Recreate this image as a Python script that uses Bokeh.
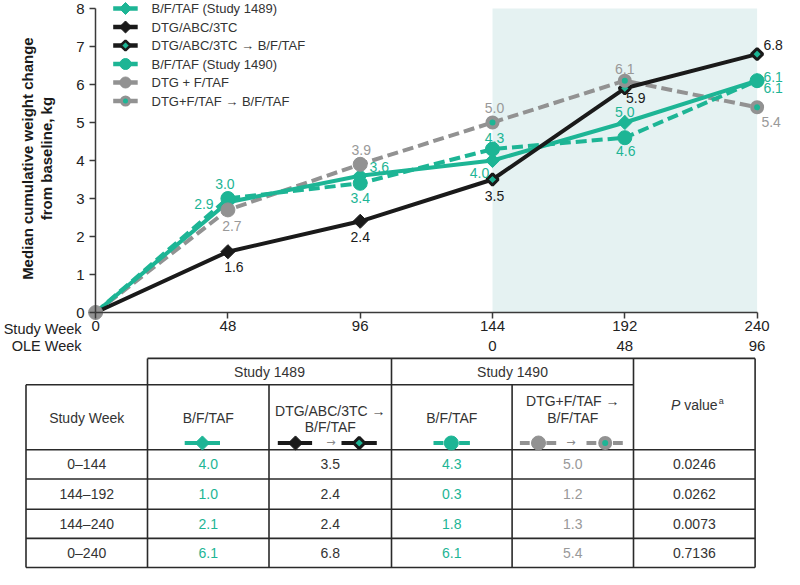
import numpy as np
from bokeh.plotting import figure
from bokeh.models import Range1d, LinearAxis, FixedTicker, BoxAnnotation, ColumnDataSource
from bokeh.layouts import column
from bokeh.embed import file_html
from bokeh.resources import INLINE
from bokeh.core.properties import value

# ---------------- data ----------------
weeks = [0, 48, 96, 144, 192, 240]
study_week_ticks = [0, 48, 96, 144, 192, 240]
ole_weeks = ["0", "48", "96"]
ole_at_study_week = [144, 192, 240]

bftaf_1489 = [0, 2.9, 3.6, 4.0, 5.0, 6.1]
bftaf_1490 = [0, 3.0, 3.4, 4.3, 4.6, 6.1]
pre_weeks = [0, 48, 96, 144]
dtg_abc_3tc = [0, 1.6, 2.4, 3.5]
switch_weeks = [144, 192, 240]
dtg_abc_3tc_switch = [3.5, 5.9, 6.8]
dtg_ftaf = [0, 2.7, 3.9, 5.0]
dtg_ftaf_switch = [5.0, 6.1, 5.4]

legend_labels = ["B/F/TAF (Study 1489)", "DTG/ABC/3TC", "DTG/ABC/3TC \u2192 B/F/TAF",
                 "B/F/TAF (Study 1490)", "DTG + F/TAF", "DTG+F/TAF \u2192 B/F/TAF"]

table_periods = ["0\u2013144", "144\u2013192", "144\u2013240", "0\u2013240"]
tbl_bftaf_1489 = ["4.0", "1.0", "2.1", "6.1"]
tbl_dtg_abc_switch = ["3.5", "2.4", "2.4", "6.8"]
tbl_bftaf_1490 = ["4.3", "0.3", "1.8", "6.1"]
tbl_dtg_ftaf_switch = ["5.0", "1.2", "1.3", "5.4"]
tbl_p_values = ["0.0246", "0.0262", "0.0073", "0.7136"]

# ---------------- styles ----------------
FONT = "Liberation Sans"
TEAL = "#1db595"
BLACK = "#1a1a1a"
GRAY = "#929292"
GRAY_TXT = "#999999"
TXT = "#333333"
SHADE = "#e5f2f2"
LW = 4
DASH = "11 5"

W = 784
H1 = 356
H2 = 213

# pixel geometry of the chart frame
X0PX, PXW = 95.1, 2.7563      # px of week 0, px per week
Y0PX, PYU = 312.0, 38.0       # px of 0 kg, px per kg

def px2x(px):
    return (px - X0PX) / PXW

def px2y(py):
    return (Y0PX - py) / PYU

p = figure(width=W, height=H1,
           x_range=Range1d(px2x(0), px2x(W)), y_range=Range1d(px2y(H1), px2y(0)),
           x_axis_type=None, y_axis_type=None, output_backend="svg",
           toolbar_location=None, min_border=0, outline_line_color=None)
p.grid.visible = False

p.add_layout(BoxAnnotation(left=144, right=240, bottom=0, top=8, fill_color=SHADE,
                           fill_alpha=1, line_color=None, level="underlay"))

xaxis = LinearAxis(fixed_location=0, bounds=(0, 240),
                   ticker=FixedTicker(ticks=study_week_ticks))
yaxis = LinearAxis(fixed_location=0, bounds=(0, 8),
                   ticker=FixedTicker(ticks=list(range(9))))
for ax in (xaxis, yaxis):
    ax.axis_line_width = 1.5
    ax.axis_line_color = "#3a3a3a"
    ax.major_tick_line_color = "#3a3a3a"
    ax.major_tick_line_width = 1.5
    ax.major_tick_out = 6
    ax.major_tick_in = 0
    ax.minor_tick_line_color = None
    ax.major_label_text_font = FONT
    ax.major_label_text_font_size = "15px"
    ax.major_label_text_color = "#222222"
xaxis.major_label_standoff = 2
yaxis.major_label_standoff = 5
p.add_layout(xaxis, "below")
p.add_layout(yaxis, "left")

# OLE week row & row captions
p.text(x=ole_at_study_week, y=[0] * 3, text=ole_weeks, y_offset=33,
       text_align="center", text_baseline="middle", text_font=value(FONT),
       text_font_size="15px", text_color="#222222")
p.text(x=[0, 0], y=[0, 0], text=["Study Week", "OLE Week"], x_offset=-14,
       y_offset=[16, 33], text_align="right", text_baseline="middle",
       text_font=value(FONT), text_font_size="14.5px", text_color="#222222")

# y-axis title
p.text(x=[0, 0], y=[4.05, 4.05],
       text=["Median cumulative weight change", "from baseline, kg"],
       x_offset=[-68, -49], angle=np.pi / 2, text_align="center",
       text_baseline="middle", text_font=value(FONT), text_font_size="15px",
       text_font_style="bold", text_color="#1a1a1a")

# ---------------- series ----------------
p.line(pre_weeks, dtg_ftaf, line_color=GRAY, line_width=LW, line_dash=DASH)
p.line(switch_weeks, dtg_ftaf_switch, line_color=GRAY, line_width=LW, line_dash=DASH)
p.line(weeks, bftaf_1490, line_color=TEAL, line_width=LW, line_dash=DASH)
p.line(weeks, bftaf_1489, line_color=TEAL, line_width=LW)
p.line(pre_weeks, dtg_abc_3tc, line_color=BLACK, line_width=LW)
p.line(switch_weeks, dtg_abc_3tc_switch, line_color=BLACK, line_width=LW)

p.scatter(weeks[1:], bftaf_1489[1:], marker="square", angle=np.pi / 4,
          size=10, fill_color=TEAL, line_color=TEAL)
p.scatter(weeks[1:], bftaf_1490[1:], marker="circle", size=14,
          fill_color=TEAL, line_color=TEAL)
p.scatter(pre_weeks[:-1], dtg_abc_3tc[:-1], marker="square", angle=np.pi / 4,
          size=10, fill_color=BLACK, line_color=BLACK)
p.scatter(switch_weeks, dtg_abc_3tc_switch, marker="square", angle=np.pi / 4,
          size=8, fill_color=TEAL, line_color=BLACK, line_width=3)
p.scatter(pre_weeks[:-1], dtg_ftaf[:-1], marker="circle", size=14,
          fill_color=GRAY, line_color=GRAY)
p.scatter(switch_weeks, dtg_ftaf_switch, marker="circle", size=10,
          fill_color=TEAL, line_color=GRAY, line_width=4)

# ---------------- data labels ----------------
def labels(xs, ys, dx, dy, color):
    src = ColumnDataSource(dict(x=xs, y=ys, t=[f"{v:.1f}" for v in ys], dx=dx, dy=dy))
    p.text(x="x", y="y", text="t", x_offset="dx", y_offset="dy", source=src,
           text_align="center", text_baseline="middle", text_font=value(FONT),
           text_font_size="14px", text_color=color)

labels(weeks[1:], bftaf_1489[1:], [-24, 19, -13, 0, 16], [2, -9, 12, -11, 7], TEAL)
labels(weeks[1:], bftaf_1490[1:], [-3, 0, 2, 1, 16], [-15, 15, -11, 13, -4], TEAL)
labels(pre_weeks[1:], dtg_abc_3tc[1:], [6, 0, 2], [15, 16, 16], BLACK)
labels(switch_weeks[1:], dtg_abc_3tc_switch[1:], [11, 16], [10, -9], BLACK)
labels(pre_weeks[1:], dtg_ftaf[1:], [4, 1, 2], [16, -14, -15], GRAY_TXT)
labels(switch_weeks[1:], dtg_ftaf_switch[1:], [0, 14], [-12, 15], GRAY_TXT)

# ---------------- legend (drawn in the frame, top-left) ----------------
leg_py = [8, 26.5, 45, 63.5, 82, 100.5]
leg_y = [px2y(v) for v in leg_py]
leg_colors = [TEAL, BLACK, BLACK, TEAL, GRAY, GRAY]
lx0, lx1, lxm, ltx = px2x(112.7), px2x(137.2), px2x(125), px2x(151)
p.segment(x0=[lx0] * 6, y0=leg_y, x1=[lx1] * 6, y1=leg_y, line_color=leg_colors,
          line_width=4.5)
p.scatter([lxm] * 2, [leg_y[0], leg_y[1]], marker="square", angle=np.pi / 4, size=8.5,
          fill_color=[TEAL, BLACK], line_color=[TEAL, BLACK])
p.scatter([lxm], [leg_y[2]], marker="square", angle=np.pi / 4, size=7,
          fill_color=TEAL, line_color=BLACK, line_width=2.5)
p.scatter([lxm] * 2, [leg_y[3], leg_y[4]], marker="circle", size=11,
          fill_color=[TEAL, GRAY], line_color=[TEAL, GRAY])
p.scatter([lxm], [leg_y[5]], marker="circle", size=8, fill_color=TEAL,
          line_color=GRAY, line_width=3)
p.text(x=[ltx] * 6, y=leg_y, text=legend_labels, text_align="left",
       text_baseline="middle", text_font=value(FONT), text_font_size="13px",
       text_color=TXT)

# ---------------- table ----------------
t = figure(width=W, height=H2, x_range=Range1d(0, W), y_range=Range1d(H2, 0),
           x_axis_type=None, y_axis_type=None, output_backend="svg",
           toolbar_location=None, min_border=0, outline_line_color=None)
t.grid.visible = False

X = [25.5, 147, 268.5, 391, 511.6, 633, 754.6]
R = [1.9, 28.2, 93.3, 122.5, 152.7, 181.9, 211.0]
hx0 = [X[1], X[0]] + [X[0]] * 5
hx1 = [X[6], X[5]] + [X[6]] * 5
vy0 = [R[1], R[0], R[1], R[0], R[1], R[0], R[0]]
t.segment(x0=hx0, y0=R, x1=hx1, y1=R, line_color="#2a2a2a", line_width=1.6)
t.segment(x0=X, y0=vy0, x1=X, y1=[R[6]] * 7, line_color="#2a2a2a", line_width=1.6)

cx = [(X[i] + X[i + 1]) / 2 for i in range(6)]

def ttext(xs, ys, txt, color=TXT, size="14px", align="center", style="normal",
          font=FONT):
    t.text(x=xs, y=ys, text=txt, text_align=align, text_baseline="middle",
           text_font=value(font), text_font_size=size, text_color=color,
           text_font_style=style)

hdr_y = (R[0] + R[1]) / 2
ttext([(X[1] + X[3]) / 2, (X[3] + X[5]) / 2], [hdr_y] * 2, ["Study 1489", "Study 1490"])
ttext([cx[0], cx[1], cx[3]], [61.2] * 3, ["Study Week", "B/F/TAF", "B/F/TAF"])
ttext([cx[2], cx[2]], [54.4, 70], ["DTG/ABC/3TC \u2192", "B/F/TAF"])
ttext([cx[4], cx[4]], [44.7, 61.2], ["DTG+F/TAF \u2192", "B/F/TAF"])
ttext([cx[5] - 14], [48.6], ["P"], align="right", style="italic")
ttext([cx[5] - 14], [48.6], ["\u00a0value"], align="left")
ttext([cx[5] + 24.5], [44], ["a"], size="9px", align="left")
ttext([330.3, 570.4], [85.5, 85.5], ["\u2192", "\u2192"], color="#888888", size="11px",
      font="DejaVu Sans")

iy = 86.5
t.segment(x0=[184.2], y0=[iy], x1=[219.5], y1=[iy], line_color=TEAL, line_width=LW)
t.scatter([201.9], [iy], marker="square", angle=np.pi / 4, size=10, fill_color=TEAL,
          line_color=TEAL)
t.segment(x0=[277.3, 341], y0=[iy, iy], x1=[311.6, 376.3], y1=[iy, iy],
          line_color=BLACK, line_width=LW)
t.scatter([295], [iy], marker="square", angle=np.pi / 4, size=10, fill_color=BLACK,
          line_color=BLACK)
t.scatter([358.7], [iy], marker="square", angle=np.pi / 4, size=8, fill_color=TEAL,
          line_color=BLACK, line_width=3)
t.segment(x0=[433, 458.6], y0=[iy, iy], x1=[443, 469.4], y1=[iy, iy], line_color=TEAL,
          line_width=LW)
t.scatter([450.8], [iy], marker="circle", size=14, fill_color=TEAL, line_color=TEAL)
t.segment(x0=[519.4, 545.9, 586, 612.5], y0=[iy] * 4, x1=[529.2, 555.7, 595.8, 622.3],
          y1=[iy] * 4, line_color=GRAY, line_width=LW)
t.scatter([538], [iy], marker="circle", size=14, fill_color=GRAY, line_color=GRAY)
t.scatter([604.7], [iy], marker="circle", size=10, fill_color=TEAL, line_color=GRAY,
          line_width=4)

row_y = [(R[k] + R[k + 1]) / 2 for k in range(2, 6)]
cols = [table_periods, tbl_bftaf_1489, tbl_dtg_abc_switch, tbl_bftaf_1490,
        tbl_dtg_ftaf_switch, tbl_p_values]
colors = [TXT, TEAL, TXT, TEAL, GRAY_TXT, TXT]
for i, col in enumerate(cols):
    ttext([cx[i]] * 4, row_y, col, color=colors[i])

layout = column(p, t, spacing=0)
open("out.html", "w").write(file_html(layout, INLINE))
